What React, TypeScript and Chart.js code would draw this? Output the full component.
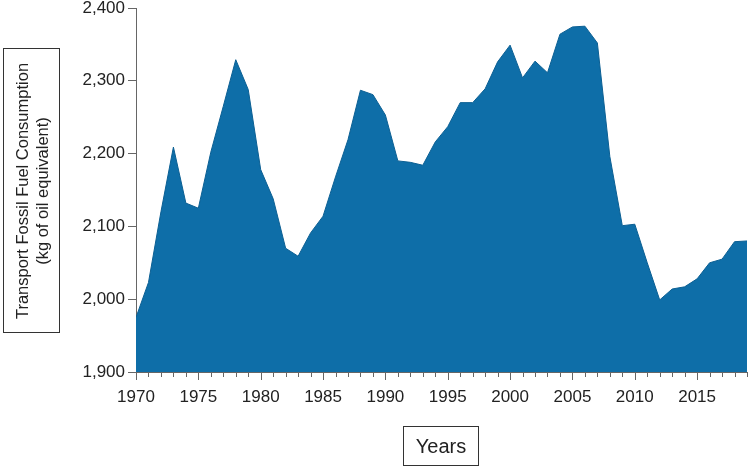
import React, { useEffect, useRef } from "react";
import { Chart, registerables } from "chart.js";

Chart.register(...registerables);

const years = [
  1970, 1971, 1972, 1973, 1974, 1975, 1976, 1977, 1978, 1979,
  1980, 1981, 1982, 1983, 1984, 1985, 1986, 1987, 1988, 1989,
  1990, 1991, 1992, 1993, 1994, 1995, 1996, 1997, 1998, 1999,
  2000, 2001, 2002, 2003, 2004, 2005, 2006, 2007, 2008, 2009,
  2010, 2011, 2012, 2013, 2014, 2015, 2016, 2017, 2018, 2019,
];

const consumption = [
  1975, 2023, 2120, 2209, 2132, 2125, 2202, 2265, 2329, 2288,
  2178, 2138, 2070, 2059, 2091, 2114, 2168, 2219, 2287, 2281,
  2253, 2190, 2188, 2184, 2216, 2237, 2270, 2270, 2289, 2326,
  2349, 2304, 2327, 2311, 2364, 2374, 2375, 2352, 2196, 2101,
  2103, 2050, 1999, 2014, 2017, 2028, 2050, 2055, 2079, 2080,
];

const yTicks = [1900, 2000, 2100, 2200, 2300, 2400];
const xLabelYears = [1970, 1975, 1980, 1985, 1990, 1995, 2000, 2005, 2010, 2015];

const yTitleLines = ["Transport Fossil Fuel Consumption", "(kg of oil equivalent)"];
const xTitle = "Years";

const FONT = "'Liberation Sans', Arial, sans-serif";
const AXIS_COLOR = "#666666";

const minorTicks = {
  id: "minorTicks",
  afterDraw(chart: any) {
    const x = chart.scales.x;
    const ctx = chart.ctx;
    const bottom = chart.chartArea.bottom;
    ctx.save();
    ctx.strokeStyle = AXIS_COLOR;
    ctx.lineWidth = 1;
    for (const yr of years) {
      const px = Math.round(x.getPixelForValue(yr)) + 0.5;
      const len = xLabelYears.includes(yr) ? 8 : 5;
      ctx.beginPath();
      ctx.moveTo(px, bottom);
      ctx.lineTo(px, bottom + len);
      ctx.stroke();
    }
    ctx.restore();
  },
};

export default function App() {
  const canvasRef = useRef<HTMLCanvasElement | null>(null);

  useEffect(() => {
    if (!canvasRef.current) return;
    const chart = new Chart(canvasRef.current, {
      type: "line",
      data: {
        labels: years,
        datasets: [
          {
            data: years.map((y, i) => ({ x: y, y: consumption[i] })),
            borderColor: "#0b5f93",
            borderWidth: 1,
            backgroundColor: "#0e6ea8",
            fill: "start",
            pointRadius: 0,
            tension: 0,
          },
        ],
      },
      options: {
        animation: false,
        responsive: false,
        maintainAspectRatio: false,
        layout: { padding: { left: 66, right: 2, top: 0, bottom: 0 } },
        plugins: { legend: { display: false }, tooltip: { enabled: false } },
        scales: {
          x: {
            type: "linear",
            min: 1970,
            max: 2019,
            afterFit(scale: any) {
              scale.height = 96;
            },
            afterBuildTicks(scale: any) {
              scale.ticks = xLabelYears.map((v) => ({ value: v }));
            },
            border: { display: true, color: AXIS_COLOR, width: 1 },
            grid: { display: false, drawOnChartArea: false },
            ticks: {
              color: "#222222",
              font: { family: FONT, size: 17 },
              padding: 7,
              maxRotation: 0,
              autoSkip: false,
              callback: (v: any) => String(v),
            },
          },
          y: {
            min: 1900,
            max: 2400,
            afterFit(scale: any) {
              scale.width = 70;
              scale.paddingTop = 8;
              scale.paddingBottom = 0;
            },
            afterBuildTicks(scale: any) {
              scale.ticks = yTicks.map((v) => ({ value: v }));
            },
            border: { display: true, color: AXIS_COLOR, width: 1 },
            grid: {
              display: true,
              drawOnChartArea: false,
              drawTicks: true,
              tickLength: 8,
              color: AXIS_COLOR,
            },
            ticks: {
              color: "#222222",
              font: { family: FONT, size: 17 },
              padding: 3,
              callback: (v: any) => Number(v).toLocaleString("en-US"),
            },
          },
        },
      },
      plugins: [minorTicks],
    });
    return () => chart.destroy();
  }, []);

  return (
    <div style={{ position: "absolute", left: 0, top: 0, width: 749, height: 468, background: "#fff" }}>
      <canvas ref={canvasRef} width={749} height={468} style={{ position: "absolute", left: 0, top: 0 }} />
      <div
        style={{
          position: "absolute",
          left: 3,
          top: 48,
          width: 57,
          height: 285,
          border: "1px solid #333",
          boxSizing: "border-box",
        }}
      >
        <div
          style={{
            position: "absolute",
            left: 28,
            top: 142,
            transform: "translate(-50%, -50%) rotate(-90deg)",
            whiteSpace: "nowrap",
            textAlign: "center",
            fontFamily: FONT,
            fontSize: 16.5,
            lineHeight: "20px",
            color: "#222",
          }}
        >
          {yTitleLines.map((l) => (
            <div key={l}>{l}</div>
          ))}
        </div>
      </div>
      <div
        style={{
          position: "absolute",
          left: 403,
          top: 426,
          width: 76,
          height: 40,
          border: "1px solid #333",
          boxSizing: "border-box",
          display: "flex",
          alignItems: "center",
          justifyContent: "center",
          fontFamily: FONT,
          fontSize: 20,
          color: "#222",
        }}
      >
        {xTitle}
      </div>
    </div>
  );
}
